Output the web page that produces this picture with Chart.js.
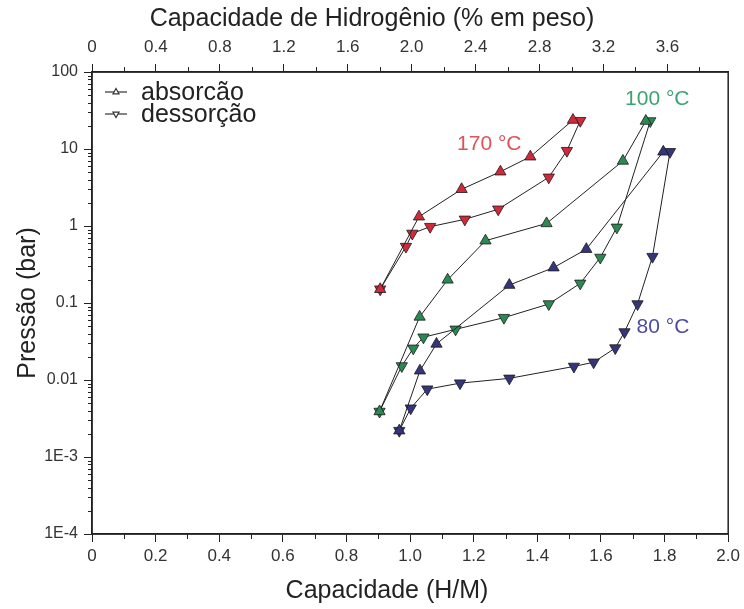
<!DOCTYPE html>
<html>
<head>
<meta charset="utf-8">
<script src="https://cdn.jsdelivr.net/npm/chart.js@4.4.1/dist/chart.umd.min.js"></script>
<style>
  html, body { margin: 0; padding: 0; background: #fff; }
  #wrap { width: 744px; height: 609px; }
</style>
</head>
<body>
<div id="wrap"><canvas id="isotherms" width="744" height="609"></canvas></div>
<script>
(function() {
    'use strict';

    // Isotherms: capacity (H/M) and pressure (bar)
    const abs170X = [0.906, 1.028, 1.162, 1.284, 1.378, 1.512];
    const abs170Y = [0.151, 1.32, 3.0, 5.07, 7.94, 23.8];
    const des170X = [1.535, 1.493, 1.436, 1.277, 1.172, 1.063, 1.007, 0.987, 0.906];
    const des170Y = [23.3, 9.5, 4.29, 1.65, 1.22, 0.98, 0.80, 0.54, 0.151];

    const abs100X = [0.904, 1.030, 1.118, 1.237, 1.429, 1.669, 1.741];
    const abs100Y = [0.0039, 0.066, 0.20, 0.644, 1.08, 7.0, 23.1];
    const des100X = [1.755, 1.650, 1.598, 1.535, 1.436, 1.295, 1.143, 1.042, 1.010, 0.974, 0.904];
    const des100Y = [23.1, 0.96, 0.39, 0.18, 0.097, 0.0645, 0.0455, 0.0359, 0.0258, 0.0152, 0.0039];

    const abs80X = [0.966, 1.031, 1.083, 1.312, 1.451, 1.554, 1.796];
    const abs80Y = [0.0022, 0.0132, 0.0294, 0.171, 0.288, 0.50, 9.2];
    const des80X = [1.817, 1.762, 1.715, 1.674, 1.645, 1.577, 1.515, 1.312, 1.157, 1.054, 1.002, 0.966];
    const des80Y = [9.2, 0.40, 0.097, 0.042, 0.026, 0.017, 0.015, 0.0105, 0.0091, 0.0076, 0.0043, 0.0022];

    // Axis ticks
    const hmTicks = [0, 0.2, 0.4, 0.6, 0.8, 1.0, 1.2, 1.4, 1.6, 1.8, 2.0];
    const wtTicks = [0, 0.4, 0.8, 1.2, 1.6, 2.0, 2.4, 2.8, 3.2, 3.6];
    const pressureTicks = [1e-4, 1e-3, 0.01, 0.1, 1, 10, 100];
    const pressureLabels = ['1E-4', '1E-3', '0.01', '0.1', '1', '10', '100'];

    // wt% of hydrogen per unit of H/M
    const WT_PER_HM = 1.99;

    const COLORS = {
        red: '#d02a3a',
        green: '#2b8a52',
        blue: '#35357c',
        redText: '#e0525a',
        greenText: '#3ca472',
        blueText: '#4d4da0',
        ink: '#222222',
        edge: '#1a1a1a'
    };

    const FONT = '"Liberation Sans", Arial, sans-serif';

    function pairs(xs, ys) {
        return xs.map((x, i) => ({ x: x, y: ys[i] }));
    }

    function series(label, xs, ys, color, down) {
        return {
            label: label,
            data: pairs(xs, ys),
            showLine: true,
            borderColor: COLORS.ink,
            borderWidth: 1,
            pointStyle: 'triangle',
            pointRotation: down ? 180 : 0,
            pointRadius: 6.5,
            pointBackgroundColor: color,
            pointBorderColor: COLORS.edge,
            pointBorderWidth: 0.8
        };
    }

    function fmt(v) {
        return v === 0 ? '0' : v.toFixed(1);
    }

    // Frame, minor ticks, axis titles, temperature labels and the legend box
    const decorations = {
        id: 'decorations',
        afterDraw(chart) {
            const ctx = chart.ctx;
            const area = chart.chartArea;
            const x = chart.scales.x;
            const x2 = chart.scales.x2;
            const y = chart.scales.y;

            ctx.save();
            ctx.strokeStyle = COLORS.ink;
            ctx.lineWidth = 1.5;
            ctx.strokeRect(area.left, area.top, area.right - area.left, area.bottom - area.top);

            ctx.lineWidth = 1;
            ctx.beginPath();
            for (let v = 0.1; v < 2; v += 0.2) {
                const px = Math.round(x.getPixelForValue(v)) + 0.5;
                ctx.moveTo(px, area.bottom);
                ctx.lineTo(px, area.bottom + 5);
            }
            for (let v = 0.2; v < x2.max; v += 0.4) {
                const px = Math.round(x2.getPixelForValue(v)) + 0.5;
                ctx.moveTo(px, area.top);
                ctx.lineTo(px, area.top - 5);
            }
            for (let d = -4; d < 2; d++) {
                for (let m = 2; m <= 9; m++) {
                    const py = Math.round(y.getPixelForValue(m * Math.pow(10, d))) + 0.5;
                    ctx.moveTo(area.left, py);
                    ctx.lineTo(area.left - 4, py);
                }
            }
            ctx.stroke();

            // axis titles
            ctx.fillStyle = COLORS.ink;
            ctx.font = '25px ' + FONT;
            ctx.textAlign = 'center';
            ctx.textBaseline = 'middle';
            ctx.fillText('Capacidade de Hidrogênio (% em peso)', 372, 19);
            ctx.fillText('Capacidade (H/M)', 387, 591);
            ctx.save();
            ctx.translate(28, 303);
            ctx.rotate(-Math.PI / 2);
            ctx.fillText('Pressão (bar)', 0, 0);
            ctx.restore();

            // temperature labels
            ctx.font = '21px ' + FONT;
            ctx.textAlign = 'center';
            ctx.fillStyle = COLORS.redText;
            ctx.fillText('170 °C', x.getPixelForValue(1.249), y.getPixelForValue(11.6));
            ctx.fillStyle = COLORS.greenText;
            ctx.fillText('100 °C', x.getPixelForValue(1.777), y.getPixelForValue(44.6));
            ctx.fillStyle = COLORS.blueText;
            ctx.textAlign = 'left';
            ctx.fillText('80 °C', x.getPixelForValue(1.712), y.getPixelForValue(0.048));

            // legend
            const rows = [
                { text: 'absorcão', rot: 0, yPix: 92 },
                { text: 'dessorção', rot: Math.PI, yPix: 114 }
            ];
            ctx.font = '25px ' + FONT;
            ctx.textAlign = 'left';
            rows.forEach(r => {
                ctx.strokeStyle = '#333';
                ctx.lineWidth = 1.2;
                ctx.beginPath();
                ctx.moveTo(105, r.yPix);
                ctx.lineTo(127, r.yPix);
                ctx.stroke();
                ctx.save();
                ctx.translate(116, r.yPix);
                ctx.rotate(r.rot);
                ctx.beginPath();
                ctx.moveTo(0, -3.5);
                ctx.lineTo(3, 1.8);
                ctx.lineTo(-3, 1.8);
                ctx.closePath();
                ctx.fillStyle = '#fff';
                ctx.fill();
                ctx.stroke();
                ctx.restore();
                ctx.fillStyle = COLORS.ink;
                ctx.fillText(r.text, 141, r.yPix + 1);
            });
            ctx.restore();
        }
    };

    const canvas = document.getElementById('isotherms');

    new Chart(canvas.getContext('2d'), {
        type: 'scatter',
        data: {
            datasets: [
                series('80 absorção', abs80X, abs80Y, COLORS.blue, false),
                series('80 dessorção', des80X, des80Y, COLORS.blue, true),
                series('100 absorção', abs100X, abs100Y, COLORS.green, false),
                series('100 dessorção', des100X, des100Y, COLORS.green, true),
                series('170 absorção', abs170X, abs170Y, COLORS.red, false),
                series('170 dessorção', des170X, des170Y, COLORS.red, true)
            ]
        },
        options: {
            responsive: false,
            animation: false,
            devicePixelRatio: 1,
            layout: { padding: { left: 0, right: 14, top: 0, bottom: 0 } },
            plugins: {
                legend: { display: false },
                tooltip: { enabled: false }
            },
            scales: {
                x: {
                    type: 'linear',
                    position: 'bottom',
                    min: 0,
                    max: 2,
                    afterBuildTicks: s => { s.ticks = hmTicks.map(v => ({ value: v })); },
                    afterFit: s => { s.height = 75; },
                    ticks: {
                        callback: v => fmt(v),
                        color: '#333',
                        font: { family: FONT, size: 17 },
                        padding: 4,
                        maxRotation: 0
                    },
                    grid: { drawOnChartArea: false, tickLength: 8, tickColor: COLORS.ink, tickWidth: 1 },
                    border: { display: true, color: COLORS.ink, width: 1.5 }
                },
                x2: {
                    type: 'linear',
                    position: 'top',
                    min: 0,
                    max: 2 * WT_PER_HM,
                    afterBuildTicks: s => { s.ticks = wtTicks.map(v => ({ value: v })); },
                    afterFit: s => { s.height = 72; },
                    ticks: {
                        callback: v => fmt(v),
                        color: '#333',
                        font: { family: FONT, size: 17 },
                        padding: 6,
                        maxRotation: 0
                    },
                    grid: { drawOnChartArea: false, tickLength: 8, tickColor: COLORS.ink, tickWidth: 1 },
                    border: { display: true, color: COLORS.ink, width: 1.5 }
                },
                y: {
                    type: 'logarithmic',
                    position: 'left',
                    min: 1e-4,
                    max: 100,
                    afterBuildTicks: s => { s.ticks = pressureTicks.map(v => ({ value: v, major: true })); },
                    afterFit: s => { s.width = 92; },
                    ticks: {
                        callback: (v, i) => pressureLabels[i],
                        color: '#333',
                        font: { family: FONT, size: 16 },
                        padding: 6,
                        autoSkip: false
                    },
                    grid: { drawOnChartArea: false, tickLength: 8, tickColor: COLORS.ink, tickWidth: 1 },
                    border: { display: true, color: COLORS.ink, width: 1.5 }
                }
            }
        },
        plugins: [decorations]
    });
})();
</script>
</body>
</html>
